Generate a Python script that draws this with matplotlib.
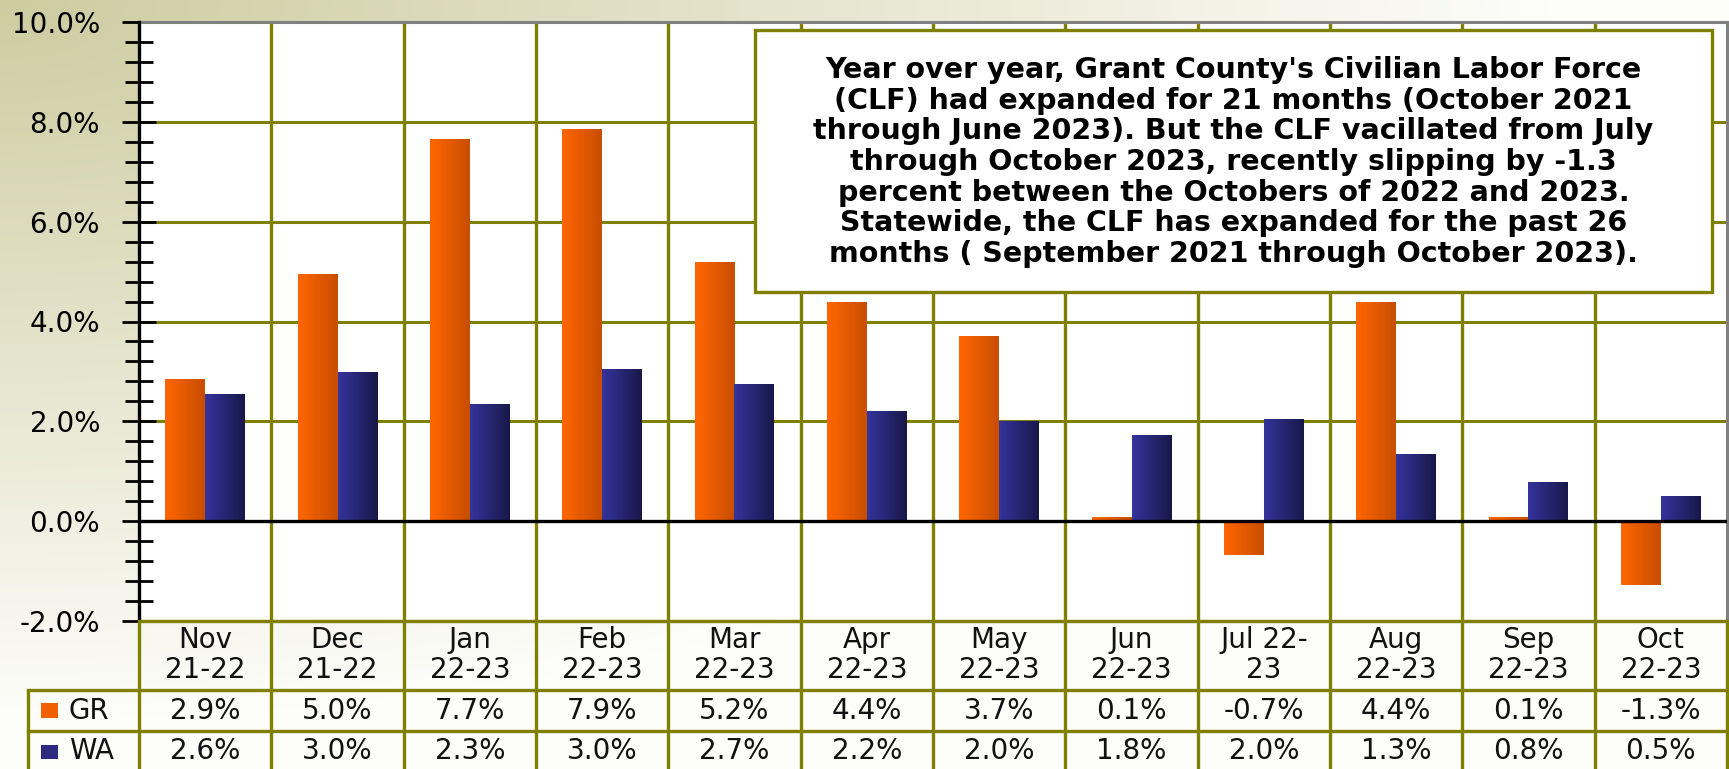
import matplotlib
matplotlib.use("Agg")
import matplotlib.pyplot as plt
from matplotlib.patches import Rectangle
import numpy as np

# data
cats = ["Nov\n21-22", "Dec\n21-22", "Jan\n22-23", "Feb\n22-23", "Mar\n22-23",
        "Apr\n22-23", "May\n22-23", "Jun\n22-23", "Jul 22-\n23", "Aug\n22-23",
        "Sep\n22-23", "Oct\n22-23"]
gr = [2.85, 4.95, 7.65, 7.85, 5.2, 4.4, 3.7, 0.08, -0.67, 4.4, 0.08, -1.27]
wa = [2.55, 2.98, 2.35, 3.05, 2.74, 2.2, 2.0, 1.73, 2.04, 1.34, 0.78, 0.5]
gr_txt = ["2.9%", "5.0%", "7.7%", "7.9%", "5.2%", "4.4%", "3.7%", "0.1%",
          "-0.7%", "4.4%", "0.1%", "-1.3%"]
wa_txt = ["2.6%", "3.0%", "2.3%", "3.0%", "2.7%", "2.2%", "2.0%", "1.8%",
          "2.0%", "1.3%", "0.8%", "0.5%"]
note = ("Year over year, Grant County's Civilian Labor Force\n"
        "(CLF) had expanded for 21 months (October 2021\n"
        "through June 2023). But the CLF vacillated from July\n"
        "through October 2023, recently slipping by -1.3\n"
        "percent between the Octobers of 2022 and 2023.\n"
        "Statewide, the CLF has expanded for the past 26\n"
        "months ( September 2021 through October 2023).")

W, H = 1729, 769
L, R, T, B = 139, 1727, 22, 621
OLIVE = "#808000"

fig = plt.figure(figsize=(W / 100, H / 100), dpi=100)

# background gradient (khaki top-left fading to white)
bg = fig.add_axes([0, 0, 1, 1], zorder=-5)
yy, xx = np.mgrid[0:H, 0:W]
t = np.clip(np.sqrt((xx / 1550.0) ** 2 + (yy / 720.0) ** 2), 0, 1)
c0 = np.array([206, 204, 160]) / 255.0
c1 = np.array([253, 253, 250]) / 255.0
img = c0[None, None, :] * (1 - t[..., None]) + c1[None, None, :] * t[..., None]
bg.imshow(img, extent=[0, W, H, 0], aspect="auto")
bg.set_xlim(0, W)
bg.set_ylim(H, 0)
bg.axis("off")

ax = fig.add_axes([L / W, (H - B) / H, (R - L) / W, (B - T) / H])
ax.set_facecolor("white")
x = np.arange(len(cats))
bw = 0.3
b1 = ax.bar(x + 0.2 + bw / 2, gr, bw, color="#ff6600", zorder=3)
b2 = ax.bar(x + 0.5 + bw / 2, wa, bw, color="#333399", zorder=3)

def shade(bars, ca, cb):
    g = np.linspace(0, 1, 64)
    ca = np.array(matplotlib.colors.to_rgb(ca))
    cb = np.array(matplotlib.colors.to_rgb(cb))
    grad = ca[None, None, :] * (1 - g[None, :, None]) + cb[None, None, :] * g[None, :, None]
    for p in bars:
        x0, y0 = p.get_x(), p.get_y()
        im = ax.imshow(grad, extent=[x0, x0 + p.get_width(), y0, y0 + p.get_height()],
                       aspect="auto", zorder=4, interpolation="bilinear", origin="lower")
        im.set_clip_path(p)

shade(b1, "#ff6600", "#c84e00")
shade(b2, "#34349c", "#18184a")

ax.set_xlim(0, 12)
ax.set_ylim(-2, 10)
ax.set_yticks(np.arange(-2, 10.1, 2))
ax.set_yticks(np.arange(-2, 10.1, 0.4), minor=True)
ax.set_yticklabels([f"{v:.1f}%" for v in np.arange(-2, 10.1, 2)])
ax.set_xticks([])
ax.tick_params(axis="y", which="major", direction="inout", length=24, width=2,
               labelsize=20, pad=16, colors="black")
ax.tick_params(axis="y", which="minor", direction="inout", length=20, width=2)

for v in [2, 4, 6, 8]:
    ax.axhline(v, color=OLIVE, lw=2.2, zorder=1)
for i in range(1, 12):
    ax.axvline(i, color=OLIVE, lw=2.4, zorder=1)
ax.axhline(0, color="black", lw=2.4, zorder=5)

ax.spines["left"].set_color("black")
ax.spines["left"].set_linewidth(2.4)
ax.spines["left"].set_zorder(6)
ax.spines["top"].set_color("#808080")
ax.spines["right"].set_color("#808080")
ax.spines["top"].set_linewidth(2.2)
ax.spines["right"].set_linewidth(2.2)
ax.spines["bottom"].set_color(OLIVE)
ax.spines["bottom"].set_linewidth(2.2)

# overlay in pixel coordinates for table and note box
ov = fig.add_axes([0, 0, 1, 1], zorder=5)
ov.set_xlim(0, W)
ov.set_ylim(H, 0)
ov.axis("off")
ov.patch.set_alpha(0)

cw = (R - L) / 12.0
row_h = [621, 690, 731, 800]
lw = 2.4
for i in range(13):
    xc = L + i * cw
    ov.plot([xc, xc], [row_h[0], H + 5], color=OLIVE, lw=lw, solid_capstyle="butt")
ov.plot([28, 28], [row_h[1], H + 5], color=OLIVE, lw=lw, solid_capstyle="butt")
ov.plot([L, R], [row_h[0], row_h[0]], color=OLIVE, lw=lw)
for yv in row_h[1:3]:
    ov.plot([28, R], [yv, yv], color=OLIVE, lw=lw)

fs = 20
for i in range(12):
    xc = L + (i + 0.5) * cw
    ov.text(xc, 655, cats[i], ha="center", va="center", fontsize=fs,
            linespacing=1.05, color="#111111")
    ov.text(xc, 711, gr_txt[i], ha="center", va="center", fontsize=fs, color="#111111")
    ov.text(xc, 751, wa_txt[i], ha="center", va="center", fontsize=fs, color="#111111")

ov.add_patch(Rectangle((41, 703), 17, 15, color="#f05f00", lw=0))
ov.add_patch(Rectangle((41, 745), 17, 14, color="#2a2a80", lw=0))
ov.text(69, 711, "GR", ha="left", va="center", fontsize=fs, color="#111111")
ov.text(69, 751, "WA", ha="left", va="center", fontsize=fs, color="#111111")

ov.add_patch(Rectangle((755, 30), 1712 - 755, 292 - 30, facecolor="white",
                       edgecolor=OLIVE, lw=2.4))
ov.text((755 + 1712) / 2, 162, note, ha="center", va="center", fontsize=20.5,
        fontweight="bold", linespacing=1.12, color="black")

fig.savefig("out.png", dpi=100)
